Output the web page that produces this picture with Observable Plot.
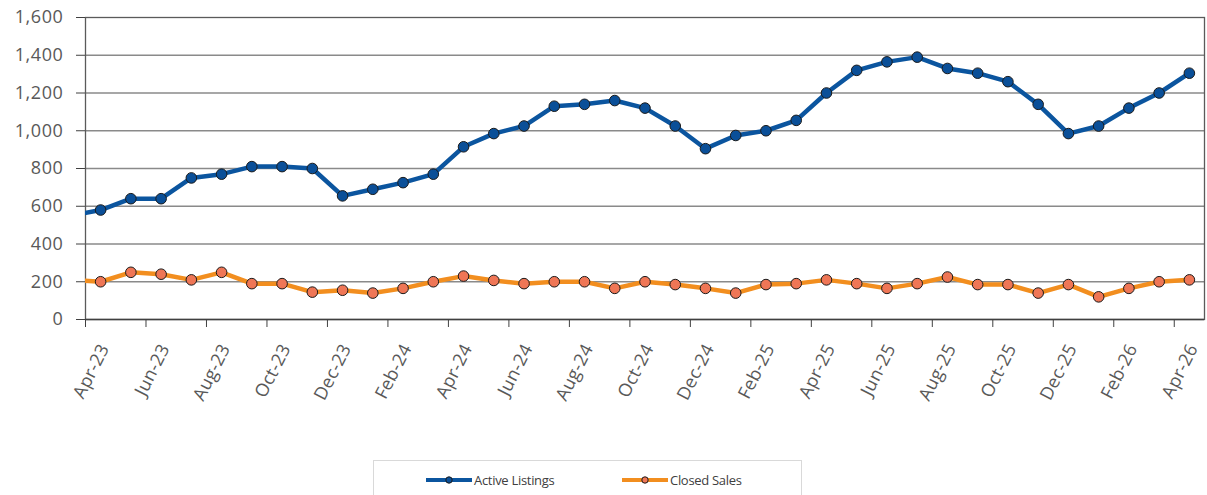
<!DOCTYPE html>
<html>
<head>
<meta charset="utf-8">
<script src="https://cdn.jsdelivr.net/npm/d3@7"></script>
<script src="https://cdn.jsdelivr.net/npm/@observablehq/plot@0.6"></script>
<style>
  body { margin: 0; background: #fff; font-family: "Open Sans", sans-serif; }
  #wrap { position: relative; width: 1207px; height: 495px; overflow: hidden; }
  #legend { position: absolute; left: 373px; top: 460px; width: 429px; height: 45px;
            border: 1px solid #d9d9d9; box-sizing: border-box; background: #fff; }
  .item { position: absolute; top: 10px; display: flex; align-items: center;
          font-size: 13px; color: #404040; letter-spacing: -0.3px; }
  .item svg { margin-right: 2px; }
  #chart g[aria-label="y-axis tick label"] text { letter-spacing: 0.6px; }
  #chart g[aria-label="x-axis tick label"] text { letter-spacing: 0.3px; }
</style>
</head>
<body>
<div id="wrap">
  <div id="chart"></div>
  <div id="legend"></div>
</div>
<script>
// Month labels (first entry is the month before the visible range; its line segment is clipped at the axis)
const months = ["Mar-23",
  "Apr-23","May-23","Jun-23","Jul-23","Aug-23","Sep-23","Oct-23","Nov-23","Dec-23",
  "Jan-24","Feb-24","Mar-24","Apr-24","May-24","Jun-24","Jul-24","Aug-24","Sep-24","Oct-24","Nov-24","Dec-24",
  "Jan-25","Feb-25","Mar-25","Apr-25","May-25","Jun-25","Jul-25","Aug-25","Sep-25","Oct-25","Nov-25","Dec-25",
  "Jan-26","Feb-26","Mar-26","Apr-26"];
const activeListings = [550,
  580,640,640,750,770,810,810,800,655,
  690,725,770,915,985,1025,1130,1140,1160,1120,1025,905,
  975,1000,1055,1200,1320,1365,1390,1330,1305,1260,1140,985,
  1025,1120,1200,1305];
const closedSales = [210,
  200,250,240,210,250,190,190,145,155,
  140,165,200,230,207,190,200,200,165,200,185,165,
  140,185,190,210,190,165,190,225,185,185,140,185,
  120,165,200,210];
const seriesNames = ["Active Listings", "Closed Sales"];
const lineColors = ["#0b559f", "#f28e1f"];
const dotColors = ["#0a4f98", "#ef7656"];
const yTicks = [0,200,400,600,800,1000,1200,1400,1600];
const xTickMonths = ["Apr-23","Jun-23","Aug-23","Oct-23","Dec-23","Feb-24","Apr-24","Jun-24","Aug-24","Oct-24",
  "Dec-24","Feb-25","Apr-25","Jun-25","Aug-25","Oct-25","Dec-25","Feb-26","Apr-26"];

// month index i -> band start at i-1, centre at i-0.5 (Apr-23 starts at 0)
const rows = months.flatMap((m, i) => [
  {month: m, pos: i - 0.5, value: activeListings[i], series: seriesNames[0]},
  {month: m, pos: i - 0.5, value: closedSales[i], series: seriesNames[1]}
]);
const tickPos = xTickMonths.map(m => months.indexOf(m) - 1);
const labelAt = new Map(xTickMonths.map((m, k) => [tickPos[k], m]));

const chart = Plot.plot({
  width: 1207,
  height: 455,
  marginLeft: 85,
  marginRight: 3,
  marginTop: 17,
  marginBottom: 136,
  style: {fontFamily: "'Open Sans', sans-serif", fontSize: "18px", color: "#595959", background: "#fff"},
  x: {type: "linear", domain: [0, months.length - 1]},
  y: {domain: [0, 1600]},
  color: {domain: seriesNames, range: lineColors},
  marks: [
    Plot.ruleY(yTicks.filter(d => d > 0 && d < 1600), {stroke: "#8a8a8a", strokeWidth: 1.3}),
    Plot.frame({stroke: "#5a5a5a", strokeWidth: 1.3}),
    Plot.axisY({ticks: yTicks, tickFormat: d3.format(","), tickSize: 9, tickPadding: 13,
                stroke: "#404040", fill: "#595959", label: null}),
    Plot.axisX({ticks: tickPos, tickFormat: () => "", tickSize: 8, stroke: "#404040", label: null}),
    Plot.axisX({ticks: tickPos, tickFormat: d => labelAt.get(d), tickSize: 0, tickPadding: 12,
                tickRotate: -63, dx: 19, dy: 14, fill: "#595959", label: null}),
    Plot.ruleY([0], {stroke: "#404040", strokeWidth: 1.3}),
    Plot.line(rows, {x: "pos", y: "value", z: "series", stroke: "series", strokeWidth: 4.5, clip: true}),
    Plot.dot(rows, {x: "pos", y: "value", r: 5.3, clip: true,
                    fill: d => dotColors[seriesNames.indexOf(d.series)],
                    stroke: "#1a1a1a", strokeWidth: 1})
  ]
});
document.getElementById("chart").appendChild(chart);

// Legend
const legend = document.getElementById("legend");
const legendLeft = [52, 248];
seriesNames.forEach((name, k) => {
  const item = document.createElement("div");
  item.className = "item";
  item.style.left = legendLeft[k] + "px";
  item.innerHTML = `<svg width="46" height="12"><line x1="0" x2="46" y1="6" y2="6" stroke="${lineColors[k]}" stroke-width="4"/>` +
    `<circle cx="23" cy="6" r="3.2" fill="${dotColors[k]}" stroke="#1a1a1a" stroke-width="1"/></svg><span>${name}</span>`;
  legend.appendChild(item);
});
</script>
</body>
</html>
